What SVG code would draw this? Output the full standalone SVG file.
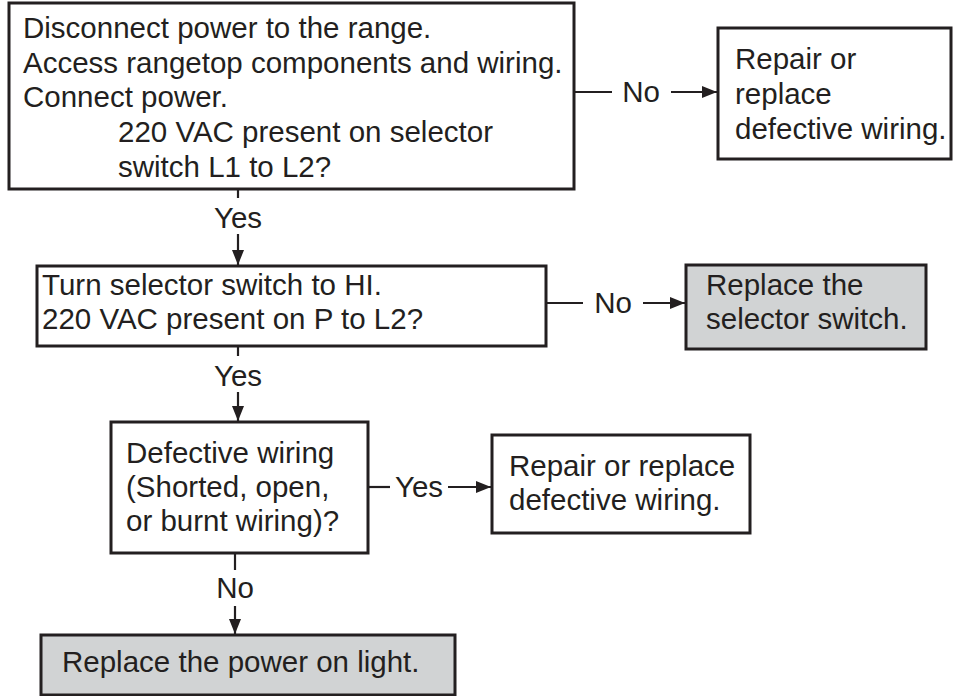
<svg xmlns="http://www.w3.org/2000/svg" width="955" height="696" viewBox="0 0 955 696">
<style>
.box{fill:#ffffff;stroke:#231f20;stroke-width:3}
.gray{fill:#d1d3d4;stroke:#231f20;stroke-width:3}
.t{font-family:"Liberation Sans",Arial,Helvetica,sans-serif;font-size:29.5px;fill:#231f20}
.c{text-anchor:middle}
.ln{stroke:#231f20;stroke-width:2.2;fill:none}
</style>
<defs>
<marker id="ah" markerUnits="userSpaceOnUse" markerWidth="16" markerHeight="12" refX="15" refY="6" orient="auto">
<path d="M0,0 L15,6 L0,12 Z" fill="#231f20"/>
</marker>
</defs>
<rect width="955" height="696" fill="#ffffff"/>
<g id="n1">
<rect class="box" x="9" y="3" width="565" height="186"/>
<text class="t" x="23" y="38">Disconnect power to the range.</text>
<text class="t" x="23" y="73">Access rangetop components and wiring.</text>
<text class="t" x="23" y="107">Connect power.</text>
<text class="t" x="118" y="142">220 VAC present on selector</text>
<text class="t" x="118" y="177">switch L1 to L2?</text>
</g>
<g id="n2">
<rect class="box" x="718" y="28" width="233" height="131"/>
<text class="t" x="735" y="69">Repair or</text>
<text class="t" x="735" y="104">replace</text>
<text class="t" x="735" y="139">defective wiring.</text>
</g>
<g id="n3">
<rect class="box" x="37" y="266" width="509" height="80"/>
<text class="t" x="42" y="295">Turn selector switch to HI.</text>
<text class="t" x="42" y="329">220 VAC present on P to L2?</text>
</g>
<g id="n4">
<rect class="gray" x="686" y="265" width="240" height="84"/>
<text class="t" x="706" y="295">Replace the</text>
<text class="t" x="706" y="329">selector switch.</text>
</g>
<g id="n5">
<rect class="box" x="111" y="422" width="257" height="131"/>
<text class="t" x="126" y="463">Defective wiring</text>
<text class="t" x="126" y="497">(Shorted, open,</text>
<text class="t" x="126" y="531">or burnt wiring)?</text>
</g>
<g id="n6">
<rect class="box" x="492" y="435" width="258" height="98"/>
<text class="t" x="509" y="476">Repair or replace</text>
<text class="t" x="509" y="510">defective wiring.</text>
</g>
<g id="n7">
<rect class="gray" x="41" y="635" width="414" height="60"/>
<text class="t" x="62" y="672">Replace the power on light.</text>
</g>
<g id="connectors">
<line class="ln" x1="574" y1="92" x2="612" y2="92"/>
<text class="t c" x="641" y="102">No</text>
<line class="ln" x1="671" y1="92" x2="717" y2="92" marker-end="url(#ah)"/>

<line class="ln" x1="238" y1="189" x2="238" y2="198"/>
<text class="t c" x="238" y="228">Yes</text>
<line class="ln" x1="238" y1="234" x2="238" y2="265" marker-end="url(#ah)"/>

<line class="ln" x1="546" y1="303" x2="583" y2="303"/>
<text class="t c" x="613" y="313">No</text>
<line class="ln" x1="643" y1="303" x2="685" y2="303" marker-end="url(#ah)"/>

<line class="ln" x1="238" y1="346" x2="238" y2="356"/>
<text class="t c" x="238" y="386">Yes</text>
<line class="ln" x1="238" y1="392" x2="238" y2="421" marker-end="url(#ah)"/>

<line class="ln" x1="368" y1="487" x2="390" y2="487"/>
<text class="t c" x="419" y="497">Yes</text>
<line class="ln" x1="448" y1="487" x2="491" y2="487" marker-end="url(#ah)"/>

<line class="ln" x1="235" y1="553" x2="235" y2="570"/>
<text class="t c" x="235" y="598">No</text>
<line class="ln" x1="235" y1="606" x2="235" y2="634" marker-end="url(#ah)"/>
</g>
</svg>
